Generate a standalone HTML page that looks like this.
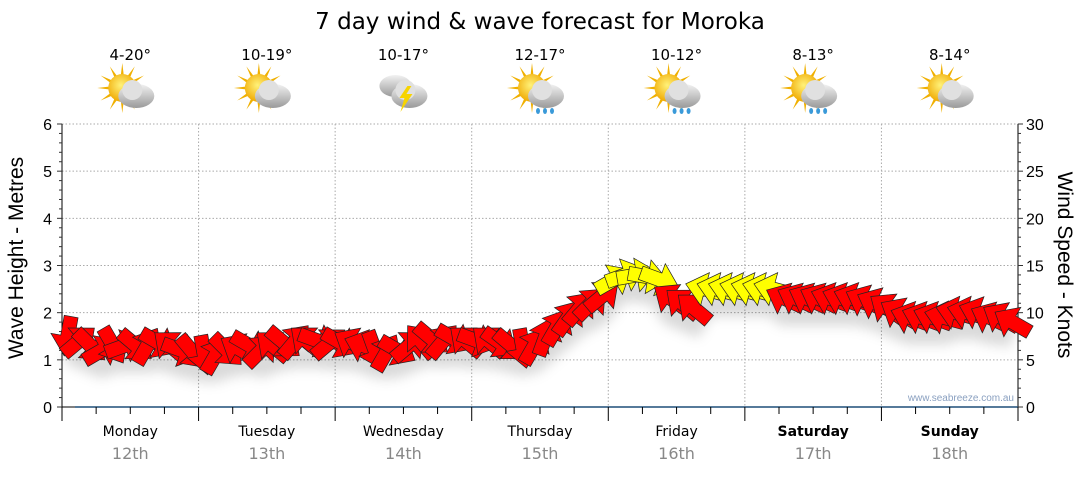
<!DOCTYPE html>
<html><head><meta charset="utf-8">
<style>
html,body{margin:0;padding:0;background:#fff;}
body{width:1080px;height:475px;overflow:hidden;font-family:"Liberation Sans",sans-serif;}
svg text{font-family:"Liberation Sans",sans-serif;}
svg text.v{font-family:"DejaVu Sans",sans-serif;}
</style></head>
<body>
<svg id="chart" width="1080" height="475" viewBox="0 0 1080 475">
<defs>
<filter id="shadow" x="-50%" y="-50%" width="200%" height="300%">
<feGaussianBlur stdDeviation="6"/>
</filter>
<radialGradient id="sunG" cx="0.45" cy="0.4" r="0.6"><stop offset="0" stop-color="#fff27a"/><stop offset="1" stop-color="#f0a800"/></radialGradient>
<linearGradient id="cloudG" x1="0" y1="0" x2="0" y2="1"><stop offset="0" stop-color="#f2f2f2"/><stop offset="1" stop-color="#9a9a9a"/></linearGradient>
</defs>
<text class="v" x="540" y="29" text-anchor="middle" font-size="23" fill="#000">7 day wind &amp; wave forecast for Moroka</text>
<g id="header"></g>
<g id="grid"></g>
<g id="axes"></g>
<g id="marks"></g>
<text x="30" y="265" transform="rotate(-90 23 265)" text-anchor="middle" font-size="21" fill="#000">Wave Height - Metres</text>
<text x="1058" y="265" transform="rotate(90 1058 265)" text-anchor="middle" font-size="21" fill="#000">Wind Speed - Knots</text>
<text x="1014" y="401" text-anchor="end" font-size="10" fill="#8aa0c0">www.seabreeze.com.au</text>
</svg>
<script>
const days = ["Monday","Tuesday","Wednesday","Thursday","Friday","Saturday","Sunday"];
const dates = ["12th","13th","14th","15th","16th","17th","18th"];
const temps = ["4-20°","10-19°","10-17°","12-17°","10-12°","8-13°","8-14°"];
const icons = ["partly","partly","storm","shower","shower","shower","partly"];
const waveTicks = [0,1,2,3,4,5,6];
const windTicks = [0,5,10,15,20,25,30];
// wind speed in knots, every 2 hours (12 per day)
const windSpeed = [
7.5,7,6.5,6,6.5,6.5,6.5,6.5,6.8,6.5,6,5.8,
5.5,5.5,6,6.2,6.5,6,6.5,6.8,7,7,7,6.8,
6.8,6.8,6.5,6,5.8,6,6.5,7,7.2,7,7.2,7,
7,7,6.8,6.5,6.2,6.5,7.5,8.5,9.5,10.5,11,11.8,
13.5,14,14,13.8,13.5,11.5,11,10.5,12.5,12.5,12.5,12.5,
12.5,12.5,12.5,11.5,11.5,11.5,11.5,11.5,11.5,11.5,11.3,11,
10.5,10,9.5,9.5,9.5,9.5,10,10,10,9.5,9.5,9];
// wind direction the arrow points (degrees, 0 = right, 90 = down)
const windDir = [
100,-40,45,-30,60,-20,40,-60,30,-140,20,50,
80,-60,45,-150,30,-45,-140,40,-50,-140,20,-40,
30,-150,200,70,-60,30,-40,-130,40,-50,30,-140,
20,-140,35,40,80,-60,-70,-60,-55,-50,-45,-40,
-30,-20,-10,10,20,215,220,220,195,195,195,195,
195,195,195,205,205,205,205,200,200,200,205,205,
215,210,200,200,200,195,195,195,200,205,210,210];

const X0=62,X1=1018,Y0=407,Y1=124;
const dayW=(X1-X0)/7;
const yWave=v=>Y0-(v/6)*(Y0-Y1);
const yWind=v=>Y0-(v/30)*(Y0-Y1);
const xHour=h=>X0+(h/168)*(X1-X0);
const NS="http://www.w3.org/2000/svg";
function mk(tag,attrs,parent){const e=document.createElementNS(NS,tag);for(const k in attrs)e.setAttribute(k,attrs[k]);parent.appendChild(e);return e;}
const grid=document.getElementById('grid'),axes=document.getElementById('axes'),marks=document.getElementById('marks'),header=document.getElementById('header');

waveTicks.forEach(v=>{if(v>0){const l=mk('line',{x1:X0,x2:X1,y1:yWave(v),y2:yWave(v),stroke:'#aaa','stroke-dasharray':'1.5,2','stroke-width':1},grid);

}});
for(let d=1;d<7;d++){const l=mk('line',{x1:X0+d*dayW,x2:X0+d*dayW,y1:Y1,y2:Y0,stroke:'#aaa','stroke-dasharray':'1.5,2','stroke-width':1},grid);

}

mk('line',{x1:X0,x2:X0,y1:Y1,y2:Y0,stroke:'#000'},axes);
mk('line',{x1:X1,x2:X1,y1:Y1,y2:Y0,stroke:'#000'},axes);
mk('line',{x1:X0,x2:75,y1:Y0,y2:Y0,stroke:'#000'},axes);
mk('line',{x1:75,x2:X1,y1:Y0,y2:Y0,stroke:'#1f4e79','stroke-width':1.5},axes);
for(let i=0;i<=30;i++){const y=Y0-i*(Y0-Y1)/30;const big=i%5==0;
mk('line',{x1:X0-(big?5:3),x2:X0,y1:y,y2:y,stroke:'#333'},axes);
mk('line',{x1:X1,x2:X1+(big?5:3),y1:y,y2:y,stroke:'#333'},axes);}
waveTicks.forEach(v=>{const t=mk('text',{x:X0-10,y:yWave(v)+6,'text-anchor':'end','font-size':16,fill:'#000'},axes);t.textContent=v;

});
windTicks.forEach(v=>{const t=mk('text',{x:X1+8,y:yWind(v)+6,'text-anchor':'start','font-size':16,fill:'#000'},axes);t.textContent=v;

});
for(let i=0;i<=28;i++){const x=X0+i*dayW/4;const big=i%4==0;
mk('line',{x1:x,x2:x,y1:Y0,y2:Y0+(big?14:7),stroke:'#000'},axes);}
days.forEach((d,i)=>{const cx=X0+(i+0.5)*dayW;
const t=mk('text',{class:'v',x:cx,y:436,'text-anchor':'middle','font-size':14,fill:'#000','font-weight':i>=5?'bold':'normal'},axes);t.textContent=d;


const t2=mk('text',{class:'v',x:cx,y:459,'text-anchor':'middle','font-size':16,fill:'#888'},axes);t2.textContent=dates[i];


const t3=mk('text',{class:'v',x:cx,y:60,'text-anchor':'middle','font-size':15,fill:'#000'},header);t3.textContent=temps[i];


const g=mk('g',{transform:`translate(${cx},92)`},header);


if(icons[i]!=='storm'){
 for(let r=0;r<12;r++){mk('polygon',{points:'-3,0 3,0 0,-25',fill:'#f0b000',transform:`translate(-8,-4) rotate(${r*30})`},g);}
 mk('circle',{cx:-8,cy:-4,r:14,fill:'url(#sunG)'},g);
}else{
 mk('ellipse',{cx:-8,cy:-6,rx:16,ry:11,fill:'url(#cloudG)'},g);
}
mk('ellipse',{cx:6,cy:4,rx:18,ry:12,fill:'url(#cloudG)'},g);
mk('circle',{cx:2,cy:-2,r:10,fill:'#e0e0e0'},g);
if(icons[i]==='storm'){mk('polygon',{points:'4,-6 -4,6 1,6 -3,20 9,2 3,2 8,-6',fill:'#f7d400'},g);}
if(icons[i]==='shower'){[-2,5,12].forEach(dx=>mk('ellipse',{cx:dx,cy:19,rx:2,ry:3,fill:'#3a9ad9'},g));}
});

const sh=mk('path',{d:windSpeed.map((v,k)=>(k?'L':'M')+xHour(k*2+1)+','+(yWind(v)+16)).join(''),stroke:'#000','stroke-opacity':0.15,'stroke-width':22,fill:'none',filter:'url(#shadow)'},marks);



windSpeed.forEach((v,k)=>{
 const x=xHour(k*2+1),y=yWind(v);
 const col=v>=12?'#ffff00':'#ff0000';
 const a=mk('polygon',{points:'-20,-7 0,-7 0,-17 20,0 0,17 0,7 -20,7',fill:col,stroke:'#222','stroke-width':0.7,transform:`translate(${x},${y}) rotate(${windDir[k]})`},marks);
 
 
});
</script>
</body></html>
